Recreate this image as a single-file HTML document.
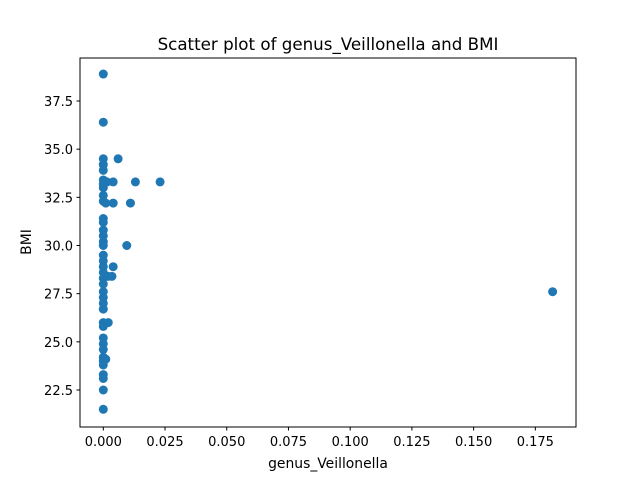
<!DOCTYPE html>
<html><head><meta charset="utf-8"><style>body{margin:0;background:#fff}svg{font-family:"DejaVu Sans","Liberation Sans",sans-serif}</style></head>
<body>
<svg id="chart" width="640" height="480">
<rect width="640" height="480" fill="#fff"/>
<text x="328" y="50" text-anchor="middle" font-size="16.7">Scatter plot of genus_Veillonella and BMI</text>
<text x="328" y="468" text-anchor="middle" font-size="13.9">genus_Veillonella</text>
<text x="31" y="242" text-anchor="middle" font-size="13.9" transform="rotate(-90 31 242)">BMI</text>
<g id="marks"></g>
<rect x="80" y="58" width="496" height="369" fill="none" stroke="#000" stroke-width="1"/>
<g id="ticks"></g>
</svg>
<script>
const xVals = [0,0,0,0,0,0,0,0,0,0,0,0,0,0,0,0,0,0,0,0,0,0,0,0,0,0,0,0,0,0,0,0,0,0,0,0,0,0,
0.006,0.004,0.013,0.023,0.004,0.011,0.0095,0.004,0.002,0.0035,0.001,0.002,0.182,0.001,0.0015];
const yVals = [38.9,36.4,34.5,34.2,33.9,33.4,33.2,33.0,32.6,32.3,31.4,31.2,30.8,30.5,30.2,30.0,29.5,29.2,28.9,28.6,28.3,28.0,27.6,27.3,27.0,26.7,26.0,25.8,25.2,24.9,24.6,24.2,24.0,23.8,23.3,23.1,22.5,21.5,
34.5,33.3,33.3,33.3,32.2,32.2,30.0,28.9,28.4,28.4,24.1,26.0,27.6,32.2,33.3];
const xTicks = [0,0.025,0.05,0.075,0.1,0.125,0.15,0.175];
const xTickLabels = ["0.000","0.025","0.050","0.075","0.100","0.125","0.150","0.175"];
const yTicks = [22.5,25,27.5,30,32.5,35,37.5];
const yTickLabels = ["22.5","25.0","27.5","30.0","32.5","35.0","37.5"];
const NS="http://www.w3.org/2000/svg";
function xs(v){return 103.3+v*(61.72/0.025);}
function ys(v){return 390-(v-22.5)*(289/15);}
const marks=document.getElementById('marks');
xVals.forEach((x,i)=>{
  const c=document.createElementNS(NS,'circle');
  c.setAttribute('cx',xs(x));c.setAttribute('cy',ys(yVals[i]));c.setAttribute('r',4.5);c.setAttribute('fill','#1f77b4');
  
  
  marks.appendChild(c);
});
const tg=document.getElementById('ticks');
xTicks.forEach((t,i)=>{
  const x=xs(t);
  const l=document.createElementNS(NS,'line');
  l.setAttribute('x1',x);l.setAttribute('x2',x);l.setAttribute('y1',427);l.setAttribute('y2',430.5);l.setAttribute('stroke','#000');
  
  
  tg.appendChild(l);
  const tx=document.createElementNS(NS,'text');
  tx.setAttribute('x',x);tx.setAttribute('y',446);tx.setAttribute('text-anchor','middle');tx.setAttribute('font-size','13');
  tx.textContent=xTickLabels[i];
  
  
  tg.appendChild(tx);
});
yTicks.forEach((t,i)=>{
  const y=ys(t);
  const l=document.createElementNS(NS,'line');
  l.setAttribute('x1',76.5);l.setAttribute('x2',80);l.setAttribute('y1',y);l.setAttribute('y2',y);l.setAttribute('stroke','#000');
  
  
  tg.appendChild(l);
  const tx=document.createElementNS(NS,'text');
  tx.setAttribute('x',73);tx.setAttribute('y',y+5);tx.setAttribute('text-anchor','end');tx.setAttribute('font-size','13');
  tx.textContent=yTickLabels[i];
  
  
  tg.appendChild(tx);
});
</script>
</body></html>
